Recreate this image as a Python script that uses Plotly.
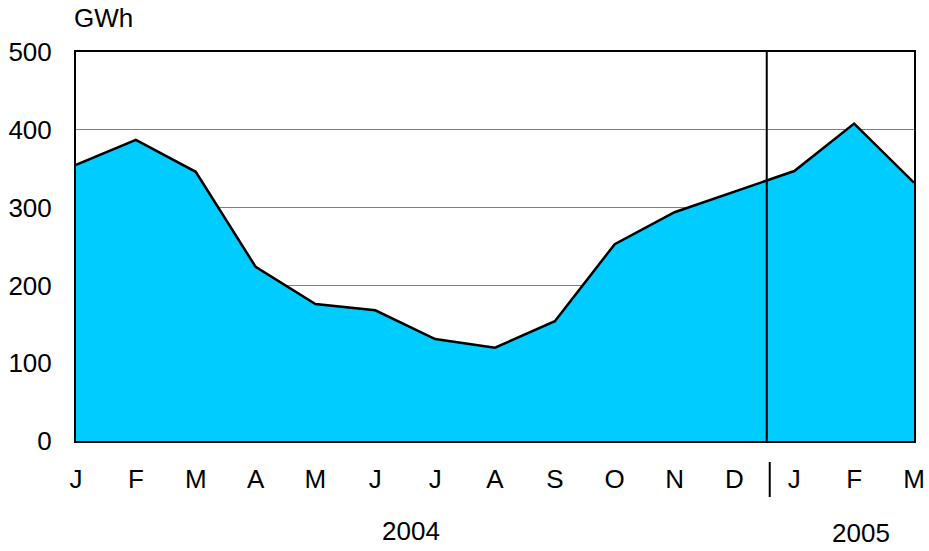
import plotly.graph_objects as go

months = ["J", "F", "M", "A", "M", "J", "J", "A", "S", "O", "N", "D", "J", "F", "M"]
values = [355, 387, 346, 224, 176, 168, 131, 120, 154, 253, 294, 320, 347, 408, 332]
years = ["2004", "2005"]
y_ticks = [0, 100, 200, 300, 400, 500]

x = list(range(len(months)))
FONT = "Liberation Sans, Arial, sans-serif"

fig = go.Figure()
fig.add_trace(go.Scatter(
    x=x, y=values, mode="lines", fill="tozeroy",
    fillcolor="#00CCFF", line=dict(color="black", width=2.5),
    hoverinfo="skip", showlegend=False,
))

fig.update_layout(
    width=929, height=551,
    margin=dict(l=76, r=15, t=52, b=110),
    paper_bgcolor="white", plot_bgcolor="white",
    font=dict(family=FONT, size=26, color="black"),
    xaxis=dict(
        range=[0, 14], tickvals=x, ticktext=months,
        showgrid=False, zeroline=False, automargin=False,
        showline=True, linecolor="black", linewidth=2, mirror=True,
        ticks="", ticklen=0, tickfont=dict(size=26), ticklabelstandoff=14,
        fixedrange=True,
    ),
    yaxis=dict(
        range=[0, 500], tickvals=y_ticks,
        showgrid=True, gridcolor="#808080", gridwidth=1,
        zeroline=False, automargin=False,
        showline=True, linecolor="black", linewidth=2, mirror=True,
        ticks="", tickfont=dict(size=26), ticklabelstandoff=17,
        fixedrange=True,
    ),
)

fig.add_annotation(text="GWh", xref="paper", yref="paper", x=0, y=1.0,
                   xshift=-4, yshift=17, xanchor="left", yanchor="bottom", showarrow=False,
                   font=dict(size=26))
fig.add_annotation(text=years[0], xref="x", yref="paper", x=5.6, y=0,
                   yshift=-90, yanchor="middle", showarrow=False, font=dict(size=26))
fig.add_annotation(text=years[1], xref="x", yref="paper", x=13.12, y=0,
                   yshift=-92, yanchor="middle", showarrow=False, font=dict(size=26))

# year divider
fig.add_shape(type="line", xref="x", yref="y", x0=11.54, x1=11.54, y0=0, y1=500,
              line=dict(color="black", width=2))
fig.add_shape(type="line", xref="x", yref="paper", x0=11.59, x1=11.59, y0=-0.054, y1=-0.144,
              line=dict(color="black", width=2))

fig.write_html("out.html", config={"displayModeBar": False},
               post_script="document.body.style.margin='0';document.body.style.padding='0';")
